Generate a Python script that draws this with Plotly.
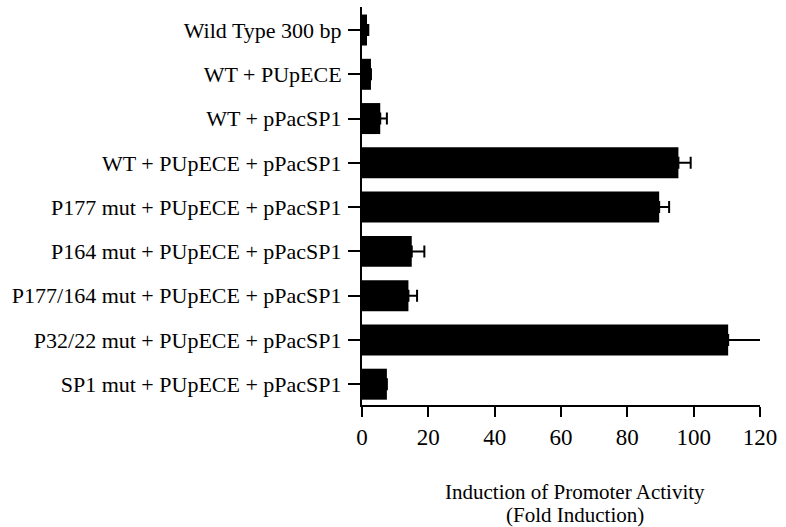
import plotly.graph_objects as go

categories = [
    "Wild Type 300 bp",
    "WT + PUpECE",
    "WT + pPacSP1",
    "WT + PUpECE + pPacSP1",
    "P177 mut + PUpECE + pPacSP1",
    "P164 mut + PUpECE + pPacSP1",
    "P177/164 mut + PUpECE + pPacSP1",
    "P32/22 mut + PUpECE + pPacSP1",
    "SP1 mut + PUpECE + pPacSP1",
]
values = [1.5, 2.7, 5.5, 95.4, 89.6, 15.0, 14.0, 110.4, 7.5]
errors = [0.4, 0.0, 2.0, 3.7, 3.0, 3.8, 2.6, 10.0, 0.0]
x_ticks = [0, 20, 40, 60, 80, 100, 120]
title_lines = ["Induction of Promoter Activity", "(Fold Induction)"]

font_family = "Liberation Serif, Times New Roman, serif"

W, H = 786, 527
L, R, T, B = 362, 26, 7, 122
plot_h = H - T - B
plot_w = W - L - R

fig = go.Figure(
    go.Bar(
        y=categories,
        x=values,
        orientation="h",
        width=0.7,
        marker=dict(color="black", line=dict(color="black", width=0)),
        error_x=dict(type="data", array=errors, symmetric=False,
                     arrayminus=[0] * len(errors),
                     color="black", thickness=2, width=6),
    )
)

fig.update_layout(
    width=W,
    height=H,
    margin=dict(l=L, r=R, t=T, b=B),
    plot_bgcolor="white",
    paper_bgcolor="white",
    showlegend=False,
    font=dict(family=font_family, size=22, color="black"),
    xaxis=dict(
        range=[0, 120],
        tickvals=x_ticks,
        ticks="outside",
        ticklen=10,
        tickwidth=2,
        tickcolor="black",
        showline=True,
        linecolor="black",
        linewidth=2,
        showgrid=False,
        zeroline=False,
        tickfont=dict(size=23),
    ),
    yaxis=dict(
        categoryorder="array",
        categoryarray=categories,
        autorange=False,
        range=[8.47, -0.52],
        ticks="outside",
        ticklen=12,
        tickwidth=2,
        tickcolor="black",
        showline=True,
        linecolor="black",
        linewidth=2,
        showgrid=False,
        zeroline=False,
        tickfont=dict(size=22),
        ticklabelstandoff=2,
    ),
)

for text, yc in zip(title_lines, [492, 515]):
    fig.add_annotation(
        text=text,
        xref="paper", yref="paper",
        x=(575 - L) / plot_w,
        y=((H - B) - yc) / plot_h,
        xanchor="center", yanchor="middle",
        showarrow=False,
        font=dict(size=21, family=font_family),
    )

fig.write_html(
    "out.html",
    config={"displayModeBar": False},
    post_script="document.body.style.margin='0';",
)
